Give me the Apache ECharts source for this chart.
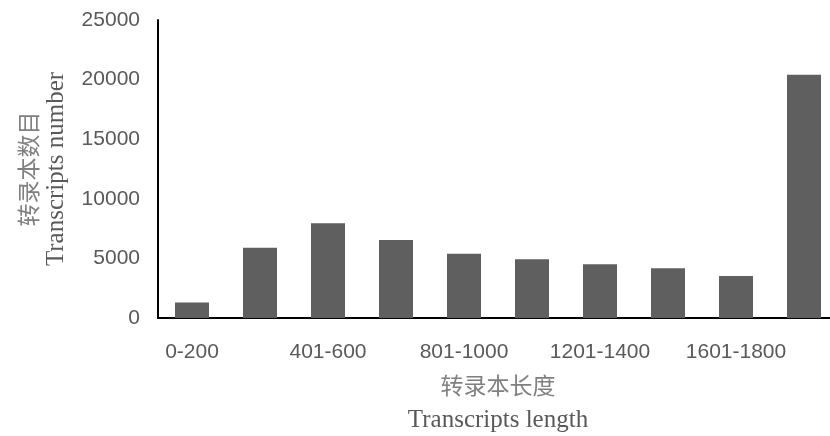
<!DOCTYPE html>
<html>
<head>
<meta charset="utf-8">
<script src="https://cdn.jsdelivr.net/npm/echarts@6/dist/echarts.min.js"></script>
<style>html,body{margin:0;padding:0;background:#fff;}#c{width:830px;height:436px;}</style>
</head>
<body>
<div id="c"></div>
<script>
var categories = ['0-200','201-400','401-600','601-800','801-1000','1001-1200','1201-1400','1401-1600','1601-1800','>1800'];
var counts = [1300, 5900, 7950, 6550, 5380, 4920, 4500, 4170, 3530, 20400];
var yTicks = {min: 0, max: 25000, interval: 5000};

var chart = echarts.init(document.getElementById('c'), null, {renderer: 'canvas'});
chart.setOption({
  animation: false,
  backgroundColor: '#fff',
  grid: {left: 158, top: 20, width: 680, height: 298, containLabel: false, outerBoundsMode: 'none'},
  xAxis: {
    type: 'category',
    data: categories,
    axisLine: {lineStyle: {color: '#000', width: 2}},
    axisTick: {show: false},
    axisLabel: {interval: 1, color: '#595959', fontFamily: 'Liberation Sans', fontSize: 21, margin: 24},
    name: '{a|转录本长度}\n{b|Transcripts length}',
    nameLocation: 'middle',
    nameGap: 50,
    nameTextStyle: {
      rich: {
        a: {fontFamily: 'Noto Sans CJK SC', fontSize: 23, color: '#808080', lineHeight: 35, align: 'center'},
        b: {fontFamily: 'Liberation Serif', fontSize: 25, color: '#595959', lineHeight: 35, align: 'center'}
      }
    }
  },
  yAxis: {
    type: 'value',
    min: yTicks.min,
    max: yTicks.max,
    interval: yTicks.interval,
    axisLine: {show: true, lineStyle: {color: '#000', width: 2}},
    axisTick: {show: false},
    splitLine: {show: false},
    axisLabel: {color: '#595959', fontFamily: 'Liberation Sans', fontSize: 21, margin: 18, formatter: function (v) { return String(v); }},
    name: '{a|转录本数目}\n{b|Transcripts number}',
    nameLocation: 'middle',
    nameGap: 88,
    nameTextStyle: {
      rich: {
        a: {fontFamily: 'Noto Sans CJK SC', fontSize: 23, color: '#808080', lineHeight: 28, align: 'center'},
        b: {fontFamily: 'Liberation Serif', fontSize: 25, color: '#595959', lineHeight: 28, align: 'center'}
      }
    }
  },
  series: [{
    type: 'bar',
    data: counts,
    barWidth: '50%',
    itemStyle: {color: '#5f5f5f'}
  }]
});
</script>
</body>
</html>
